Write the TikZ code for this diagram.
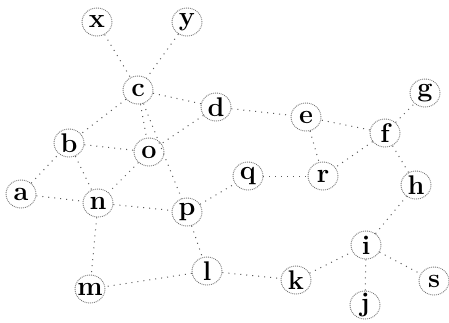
\documentclass[tikz,border=0pt]{standalone}
\usetikzlibrary{shapes.geometric}
\begin{document}
\begin{tikzpicture}[x=1pt,y=-1pt,
  vnode/.style={ellipse,draw=black!55,densely dotted,line width=0.9pt,minimum width=30pt,minimum height=28pt,inner sep=0pt,
    label={[font=\fontsize{27}{29}\selectfont\bfseries,inner sep=0pt]center:#1}},
  edge/.style={draw=black!65,line width=1pt,dash pattern=on 1pt off 5pt}]
\useasboundingbox (0,0) rectangle (449,322);
\node[vnode=x] (x) at (97,22) {};
\node[vnode=y] (y) at (187,22) {};
\node[vnode=c] (c) at (138,90) {};
\node[vnode=d] (d) at (216,107) {};
\node[vnode=b] (b) at (69,143) {};
\node[vnode=o] (o) at (149,152) {};
\node[vnode=e] (e) at (306,117) {};
\node[vnode=f] (f) at (385,133) {};
\node[vnode=g] (g) at (425,93) {};
\node[vnode=a] (a) at (21,194) {};
\node[vnode=n] (n) at (98,203) {};
\node[vnode=p] (p) at (187,212) {};
\node[vnode=q] (q) at (248,176) {};
\node[vnode=r] (r) at (323,176) {};
\node[vnode=h] (h) at (416,185) {};
\node[vnode=i] (i) at (366,245) {};
\node[vnode=s] (s) at (434,281) {};
\node[vnode=j] (j) at (365,305) {};
\node[vnode=l] (l) at (207,271) {};
\node[vnode=k] (k) at (296,280) {};
\node[vnode=m] (m) at (90,289) {};
\foreach \u/\v in {x/c,y/c,c/d,c/o,c/b,c/p,d/o,d/e,b/o,b/n,a/b,a/n,o/n,n/p,n/m,p/q,p/l,l/m,l/k,k/i,i/j,i/s,i/h,h/f,f/g,f/e,f/r,e/r,q/r}
  \draw[edge] (\u) -- (\v);
\end{tikzpicture}
\end{document}
